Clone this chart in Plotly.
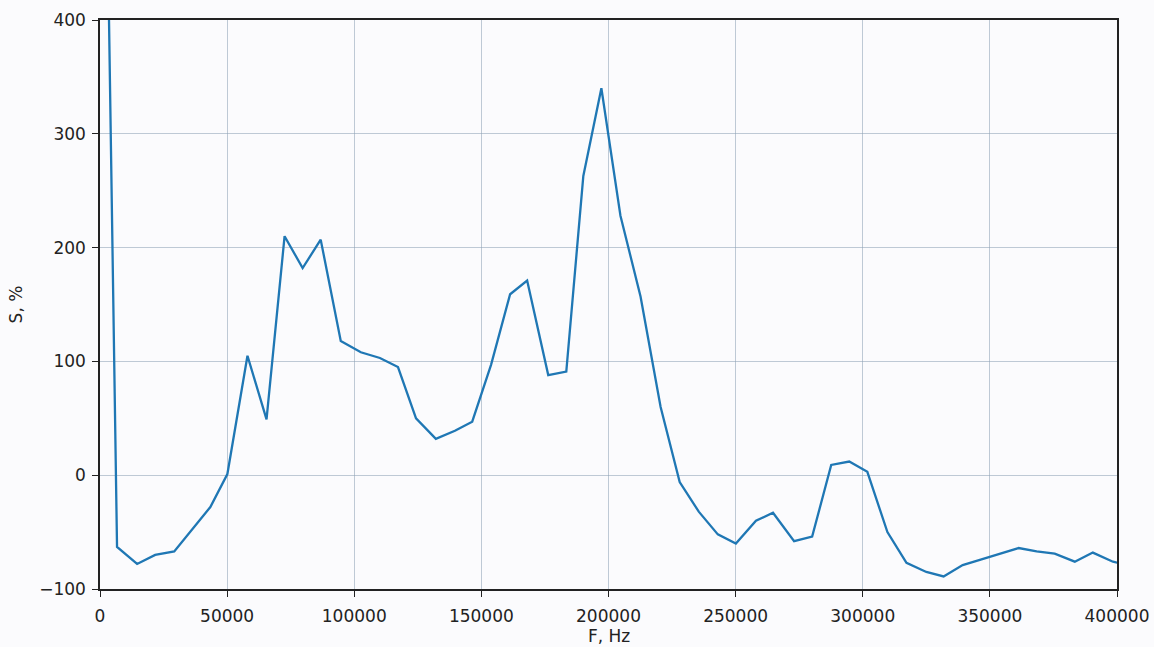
import plotly.graph_objects as go

# Frequency (Hz) and S (%)
freq_hz = [0, 6700, 14600, 21700, 29200, 37100, 43400, 50100, 58000, 65500,
           72600, 79700, 86800, 94700, 102600, 110100, 117200, 124300, 132100, 139600,
           146400, 153800, 161300, 168000, 176300, 183400, 190100, 197200, 204700, 212600,
           220500, 228000, 235500, 243000, 250100, 258000, 264700, 273000, 280100, 287600,
           294700, 301800, 309700, 317200, 325000, 331800, 339300, 346700, 353800, 361300,
           368400, 375500, 383400, 390500, 398400, 405800]
s_pct = [920, -63, -78, -70, -67, -45, -28, 1, 105, 49,
         210, 182, 207, 118, 108, 103, 95, 50, 32, 39,
         47, 97, 159, 171, 88, 91, 263, 340, 228, 157,
         60, -6, -32, -52, -60, -40, -33, -58, -54, 9,
         12, 3, -50, -77, -85, -89, -79, -74, -69, -64,
         -67, -69, -76, -68, -76, -80]

x_ticks = [0, 50000, 100000, 150000, 200000, 250000, 300000, 350000, 400000]
x_tick_labels = ["0", "50000", "100000", "150000", "200000", "250000", "300000", "350000", "400000"]
y_ticks = [-100, 0, 100, 200, 300, 400]
y_tick_labels = ["\u2212100", "0", "100", "200", "300", "400"]
x_title = "F, Hz"
y_title = "S, %"

FONT = dict(family="DejaVu Sans", size=17, color="#222222")

fig = go.Figure()
fig.add_trace(go.Scatter(
    x=freq_hz, y=s_pct, mode="lines",
    line=dict(color="#1f77b4", width=2.3),
    showlegend=False,
))

axis_common = dict(
    showline=True, linecolor="#222222", linewidth=1.5, mirror=True,
    ticks="outside", ticklen=6, tickwidth=1.3, tickcolor="#222222",
    showgrid=True, gridcolor="rgba(140,160,180,0.55)", gridwidth=1,
    zeroline=False, automargin=False, ticklabeloverflow="allow",
    tickfont=FONT,
)

fig.update_layout(
    width=1154, height=647,
    margin=dict(l=100, r=37, t=20, b=58),
    paper_bgcolor="#fbfbfd", plot_bgcolor="#fbfbfd",
    xaxis=dict(range=[0, 400000], tickvals=x_ticks, ticktext=x_tick_labels,
               ticklabelstandoff=5, **axis_common),
    yaxis=dict(range=[-100, 400], tickvals=y_ticks, ticktext=y_tick_labels,
               ticklabelstandoff=3,
               title=dict(text=y_title, font=FONT, standoff=12),
               **axis_common),
    annotations=[dict(text=x_title, xref="paper", yref="paper", x=0.5, y=0,
                      xanchor="center", yanchor="middle", yshift=-47,
                      showarrow=False, font=FONT)],
)

fig.write_html("out.html",
               config={"displayModeBar": False},
               post_script="document.body.style.margin='0';document.body.style.overflow='hidden';")
